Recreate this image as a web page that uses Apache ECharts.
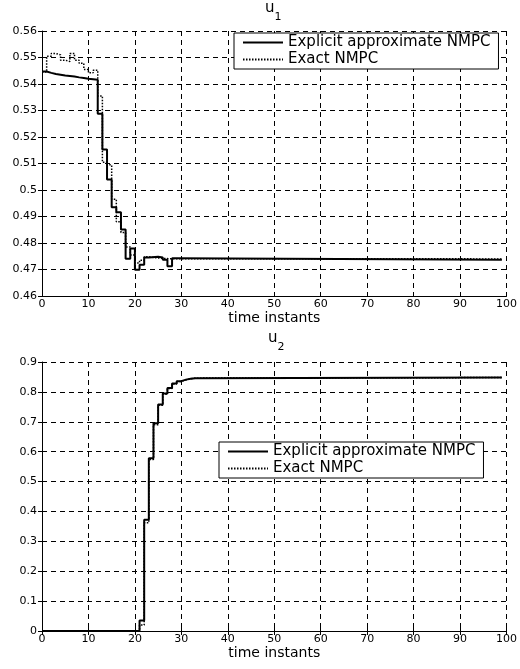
<!DOCTYPE html>
<html lang="en">

<head>
    <meta charset="UTF-8">
    <script src="https://cdn.jsdelivr.net/npm/echarts@6/dist/echarts.min.js"></script>
    <title>u1 u2</title>
    <style>
        body { margin: 0; background: #fff; }
    </style>
</head>

<body>
    <div id="main" style="width: 520px;height:669px;"></div>

    <script>
        // u1 - step times and values (stairs)
        var u1ApproxT = [0, 1, 2, 3, 4, 5, 6, 7, 8, 9, 10, 11, 12, 13, 14, 15, 16, 17, 18, 19, 20, 21, 22, 23, 25, 26, 27, 28, 29, 99];
        var u1ApproxV = [0.5447, 0.5442, 0.5438, 0.5435, 0.5432, 0.5430, 0.5428, 0.5425, 0.5423, 0.5420, 0.5418, 0.5416, 0.5288, 0.5153, 0.5040, 0.4935, 0.4916, 0.4851, 0.4741, 0.4779, 0.4699, 0.4718, 0.4745, 0.4748, 0.4745, 0.4737, 0.4712, 0.4742, 0.4737, 0.4737];
        var u1ExactT = [0, 1, 2, 3, 4, 5, 6, 7, 8, 9, 10, 11, 12, 13, 14, 15, 16, 17, 18, 19, 20, 21, 22, 23, 24, 26, 28, 30, 99];
        var u1ExactV = [0.5445, 0.5505, 0.5515, 0.5510, 0.5490, 0.5485, 0.5515, 0.5490, 0.5478, 0.5455, 0.5442, 0.5452, 0.5355, 0.5105, 0.5095, 0.4965, 0.4880, 0.4840, 0.4785, 0.4755, 0.4725, 0.4735, 0.4748, 0.4745, 0.4742, 0.4740, 0.4741, 0.4740, 0.4740];

        // u2
        var u2ApproxT = [0, 21, 22, 23, 24, 25, 26, 27, 28, 29, 30, 31, 32, 33, 99];
        var u2ApproxV = [0, 0.035, 0.372, 0.578, 0.695, 0.758, 0.795, 0.813, 0.828, 0.836, 0.841, 0.844, 0.846, 0.848, 0.848];
        var u2ExactT = [0, 21, 22, 23, 24, 25, 26, 27, 28, 29, 30, 31, 32, 33, 99];
        var u2ExactV = [0, 0.02, 0.362, 0.574, 0.690, 0.755, 0.792, 0.811, 0.826, 0.835, 0.840, 0.844, 0.846, 0.848, 0.848];

        var names = ['Explicit approximate NMPC', 'Exact NMPC'];

        function zip(t, v) {
            var out = [];
            for (var i = 0; i < t.length; i++) out.push([t[i], v[i]]);
            return out;
        }

        var font = 'DejaVu Sans';
        var gridDash = { show: true, lineStyle: { color: '#000', width: 1, type: [5, 4] } };

        function xAx(grid) {
            return {
                type: 'value', gridIndex: grid, min: 0, max: 100, interval: 10,
                name: 'time instants', nameLocation: 'middle', nameGap: 12,
                nameTextStyle: { fontFamily: font, fontSize: 14, color: '#000' },
                axisLine: { lineStyle: { color: '#000' } },
                axisTick: { inside: true, length: 4, lineStyle: { color: '#000' } },
                axisLabel: { fontFamily: font, fontSize: 11, color: '#000', margin: 3 },
                splitLine: gridDash
            };
        }
        function xTop(grid) {
            return {
                type: 'value', gridIndex: grid, min: 0, max: 100, interval: 10, position: 'top',
                axisLine: { show: false },
                axisTick: { inside: true, length: 4, lineStyle: { color: '#000' } },
                axisLabel: { show: false }, splitLine: { show: false }
            };
        }
        function yAx(grid, min, max, step) {
            return {
                type: 'value', gridIndex: grid, min: min, max: max, interval: step,
                axisLine: { show: true, lineStyle: { color: '#000' } },
                axisTick: { show: true, inside: true, length: 4, lineStyle: { color: '#000' } },
                axisLabel: { fontFamily: font, fontSize: 11, color: '#000', margin: 5 },
                splitLine: gridDash
            };
        }
        function yRight(grid, min, max, step) {
            return {
                type: 'value', gridIndex: grid, min: min, max: max, interval: step, position: 'right',
                axisLine: { show: false },
                axisTick: { show: true, inside: true, length: 4, lineStyle: { color: '#000' } },
                axisLabel: { show: false }, splitLine: { show: false }
            };
        }

        function legendAt(left, top) {
            return {
                data: names, orient: 'vertical', left: left, top: top,
                itemWidth: 40, itemHeight: 8, itemGap: 2,
                padding: [2, 8, 2, 8],
                borderColor: '#000', borderWidth: 1, backgroundColor: '#fff',
                itemStyle: { opacity: 0 },
                textStyle: { fontFamily: font, fontSize: 15, color: '#000', lineHeight: 12 },
                selectedMode: false
            };
        }

        function titleAt(left, top, sub) {
            return {
                text: '{a|u}{b|' + sub + '}', left: left, top: top, padding: 0,
                textStyle: {
                    rich: {
                        a: { fontFamily: font, fontSize: 15, fontWeight: 'normal', color: '#000', verticalAlign: 'top', lineHeight: 22 },
                        b: { fontFamily: font, fontSize: 11, fontWeight: 'normal', color: '#000', verticalAlign: 'bottom', lineHeight: 22 }
                    }
                }
            };
        }

        function stairs(name, data, xi, yi, dotted) {
            return {
                name: name, type: 'line', step: 'end', symbol: 'none',
                xAxisIndex: xi, yAxisIndex: yi, data: data,
                lineStyle: dotted ? { color: '#000', width: 1.5, type: [1.5, 1.5] } : { color: '#000', width: 2 },
                itemStyle: { color: '#000' },
                z: dotted ? 3 : 2
            };
        }

        var myChart = echarts.init(document.getElementById('main'));

        var option = {
            animation: false,
            backgroundColor: '#fff',
            title: [titleAt(265, 1, '1'), titleAt(268, 331, '2')],
            legend: [legendAt(234, 33), legendAt(219, 442)],
            grid: [
                { left: 42, right: 12, top: 31, height: 265 },
                { left: 42, right: 12, top: 362, height: 269 }
            ],
            xAxis: [xAx(0), xAx(1), xTop(0), xTop(1)],
            yAxis: [yAx(0, 0.46, 0.56, 0.01), yAx(1, 0, 0.9, 0.1), yRight(0, 0.46, 0.56, 0.01), yRight(1, 0, 0.9, 0.1)],
            series: [
                stairs(names[0], zip(u1ApproxT, u1ApproxV), 0, 0, false),
                stairs(names[1], zip(u1ExactT, u1ExactV), 0, 0, true),
                stairs(names[0], zip(u2ApproxT, u2ApproxV), 1, 1, false),
                stairs(names[1], zip(u2ExactT, u2ExactV), 1, 1, true)
            ]
        };
        myChart.setOption(option);
    </script>

</body>

</html>
